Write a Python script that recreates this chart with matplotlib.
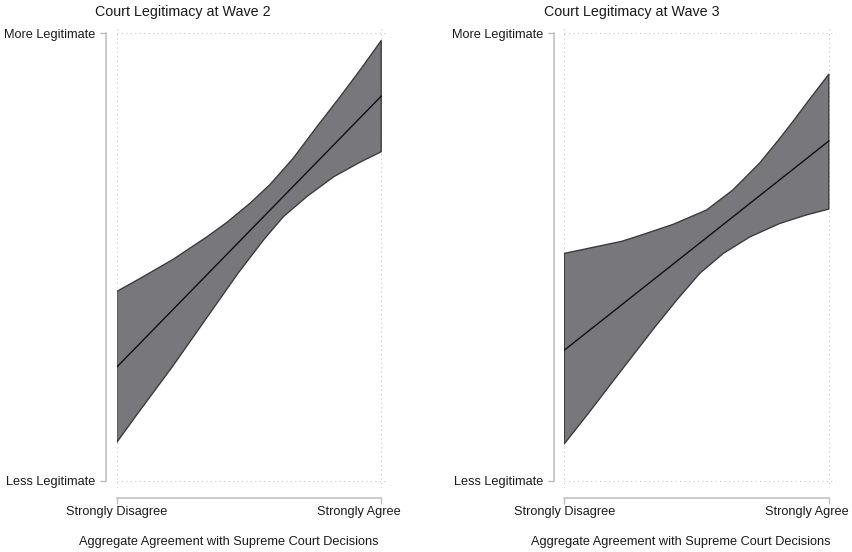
import matplotlib
matplotlib.use("Agg")
import matplotlib.pyplot as plt
from matplotlib.transforms import ScaledTranslation

plt.rcParams['font.family'] = ['Liberation Sans', 'DejaVu Sans']

# predicted legitimacy (0 = less, 1 = more) by aggregate agreement (0..1)
titles = ["Court Legitimacy at Wave 2", "Court Legitimacy at Wave 3"]
xlabel = "Aggregate Agreement with Supreme Court Decisions"
x_ticklabels = ["Strongly Disagree", "Strongly Agree"]
y_ticklabels = ["Less Legitimate", "More Legitimate"]

w2_fit_x = [0.0, 1.0]
w2_fit_y = [0.254, 0.859]
w2_upper_x = [0.0, 0.088, 0.214, 0.341, 0.416, 0.504, 0.580, 0.668, 0.757, 0.845, 0.921, 1.0]
w2_upper_y = [0.423, 0.452, 0.495, 0.545, 0.577, 0.620, 0.662, 0.721, 0.791, 0.858, 0.918, 0.983]
w2_lower_x = [0.0, 0.081, 0.209, 0.334, 0.459, 0.555, 0.630, 0.719, 0.820, 0.921, 1.0]
w2_lower_y = [0.086, 0.152, 0.254, 0.359, 0.464, 0.538, 0.590, 0.635, 0.679, 0.712, 0.735]

w3_fit_x = [0.0, 1.0]
w3_fit_y = [0.292, 0.759]
w3_upper_x = [0.0, 0.217, 0.286, 0.412, 0.538, 0.638, 0.739, 0.815, 0.865, 0.922, 1.0]
w3_upper_y = [0.508, 0.535, 0.548, 0.573, 0.605, 0.650, 0.710, 0.765, 0.803, 0.848, 0.908]
w3_lower_x = [0.0, 0.091, 0.217, 0.343, 0.425, 0.513, 0.601, 0.702, 0.815, 0.916, 1.0]
w3_lower_y = [0.083, 0.151, 0.248, 0.344, 0.404, 0.464, 0.508, 0.545, 0.575, 0.594, 0.607]

panels = [
    (w2_fit_x, w2_fit_y, w2_upper_x, w2_upper_y, w2_lower_x, w2_lower_y),
    (w3_fit_x, w3_fit_y, w3_upper_x, w3_upper_y, w3_lower_x, w3_lower_y),
]

W, H = 853, 552
fig = plt.figure(figsize=(W / 100, H / 100), dpi=100)

axis_grey = '#bcbcbc'
band_grey = '#78777c'
edge_grey = '#3c3c3c'

# pixel positions of each panel's data origin
origins = [116.7, 564.3]
title_x = [183, 631.5]
xlabel_x = [229, 681]
span = 264.5
top_px, bottom_px = 26.3, 487.7

for i, (fx, fy, ux, uy, lx, ly) in enumerate(panels):
    left = origins[i] / W
    width = span * 1.027 / W
    ax = fig.add_axes([left, 1 - bottom_px / H, width, (bottom_px - top_px) / H])

    # confidence band as a closed polygon, then the fitted line
    px = list(ux) + list(lx)[::-1]
    py = list(uy) + list(ly)[::-1]
    ax.fill(px, py, facecolor=band_grey, edgecolor=edge_grey, linewidth=1.0,
            joinstyle='round', zorder=2)
    ax.plot(fx, fy, color='#111111', linewidth=1.0, zorder=3)

    ax.set_xlim(0, 1.027)
    ax.set_ylim(-0.015, 1.015)
    ax.set_xticks([0, 1])
    ax.set_yticks([0, 1])
    ax.set_xticklabels(x_ticklabels)
    ax.set_yticklabels(y_ticklabels)

    ax.grid(True, linestyle=(0, (1, 3)), color='#c8c8c8', linewidth=0.8, zorder=0)

    for s in ['top', 'right']:
        ax.spines[s].set_visible(False)
    ax.spines['left'].set_position(('outward', 7.7))
    ax.spines['bottom'].set_position(('outward', 7.2))
    ax.spines['left'].set_bounds(0, 1)
    ax.spines['bottom'].set_bounds(0, 1)
    for s in ['left', 'bottom']:
        ax.spines[s].set_color(axis_grey)
        ax.spines[s].set_linewidth(1.1)

    ax.tick_params(axis='both', length=4.3, width=1.0, color=axis_grey,
                   labelsize=9.2, labelcolor='#1a1a1a')
    ax.tick_params(axis='x', pad=2)
    ax.tick_params(axis='y', pad=3)

    # keep the right-hand label inside the panel
    lab = ax.get_xticklabels()[1]
    lab.set_transform(lab.get_transform() + ScaledTranslation(-0.22, 0, fig.dpi_scale_trans))

    fig.text(title_x[i] / W, 1 - 12 / H, titles[i], ha='center', va='center',
             fontsize=10.3, color='#1a1a1a')
    fig.text(xlabel_x[i] / W, 1 - 541.5 / H, xlabel, ha='center', va='center',
             fontsize=9.2, color='#1a1a1a')

fig.savefig("out.png", dpi=100, facecolor='white')
